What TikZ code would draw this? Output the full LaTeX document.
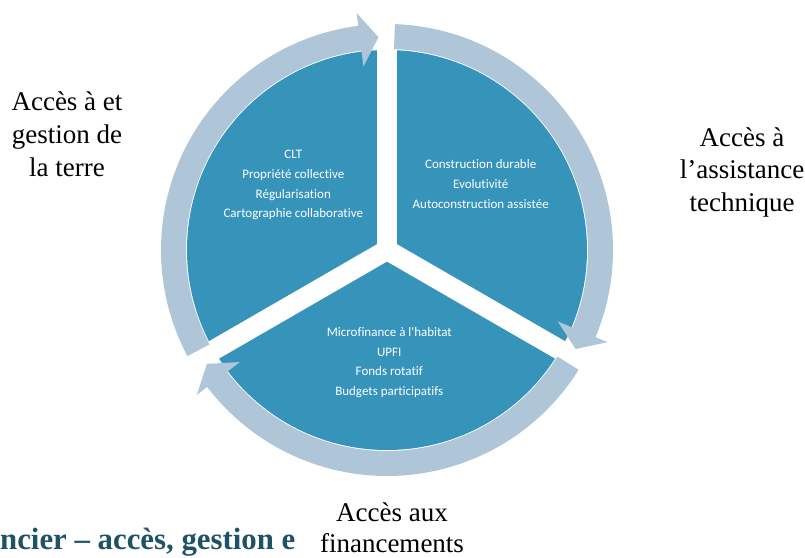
\documentclass[tikz,border=0pt]{standalone}
\usepackage{fontspec}
\setmainfont{Liberation Serif}
\newfontfamily\calfont[Ligatures=NoCommon]{Carlito}
\definecolor{pieblue}{RGB}{54,148,187}
\definecolor{ringblue}{RGB}{174,198,216}
\definecolor{titleteal}{RGB}{31,82,102}
\tikzset{
  ringarrow/.style={fill=ringblue},
  gapline/.style={draw=white, line width=20pt},
  innertext/.style={font=\calfont\fontsize{13}{20}\selectfont, text=white, anchor=base, inner sep=0pt},
  outertext/.style={font=\fontsize{27}{33}\selectfont, text=black, anchor=base, inner sep=0pt},
  cuttitle/.style={font=\bfseries\fontsize{30.8}{34}\selectfont, text=titleteal, anchor=base west, inner sep=0pt},
}
\begin{document}
\begin{tikzpicture}[x=1pt,y=1pt]
\useasboundingbox (0,0) rectangle (805,557);
\coordinate (C) at (387,307);
% pie
\fill[pieblue] (C) circle[radius=200pt];
\draw[gapline] (C) -- ++(90:203pt);
\draw[gapline] (C) -- ++(210:203pt);
\draw[gapline] (C) -- ++(330:203pt);
% ring arrows
\begin{scope}[shift={(C)}]
\foreach \k in {0,1,2}{
  \pgfmathsetmacro{\ts}{208-120*\k}
  \pgfmathsetmacro{\tb}{97.3-120*\k}
  \pgfmathsetmacro{\tt}{92.3-120*\k}
  \fill[ringarrow] (\ts:226pt) arc[start angle=\ts, end angle=\tb, radius=226pt]
     -- (\tb:239pt) -- (\tt:213pt) -- (\tb:185pt) -- (\tb:201pt)
     arc[start angle=\tb, end angle=\ts, radius=201pt] -- cycle;
}
\end{scope}
% inner texts
\node[innertext] (a1) at (293.3,398.4) {CLT};
\node[innertext] (a2) at (293.3,378.4) {Propriété collective};
\node[innertext] (a3) at (293.3,358.4) {Régularisation};
\node[innertext] (a4) at (293.3,339.0) {Cartographie collaborative};
\node[innertext] (b1) at (480.7,388.3) {Construction durable};
\node[innertext] (b2) at (480.7,368.3) {Evolutivité};
\node[innertext] (b3) at (480.7,348.3) {Autoconstruction assistée};
\node[innertext] (c1) at (389.3,220.3) {Microfinance à l'habitat};
\node[innertext] (c2) at (389.3,200.6) {UPFI};
\node[innertext] (c3) at (389.3,181.0) {Fonds rotatif};
\node[innertext] (c4) at (389.3,161.3) {Budgets participatifs};
% outer labels
\node[outertext] (l1) at (67,446.3) {Accès à et};
\node[outertext] (l2) at (67,413.5) {gestion de};
\node[outertext] (l3) at (67,380.5) {la terre};
\node[outertext] (r1) at (742,410.3) {Accès à};
\node[outertext] (r2) at (742,378.0) {l’assistance};
\node[outertext] (r3) at (742,345.3) {technique};
\node[outertext] (d1) at (392,36) {Accès aux};
\node[outertext] (d2) at (392,4.5) {financements};
% cut title
\node[cuttitle] (t) at (0,7.7) {ncier – accès, gestion e};
\end{tikzpicture}
\end{document}
